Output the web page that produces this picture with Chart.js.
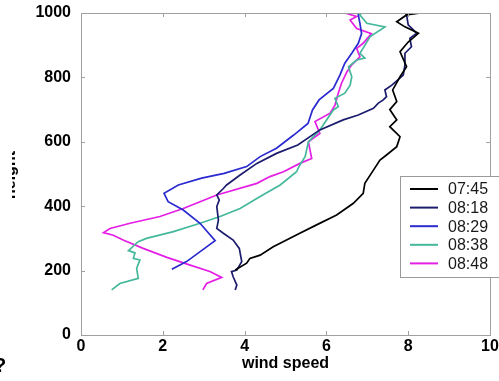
<!DOCTYPE html>
<html>
<head>
<meta charset="utf-8">
<script src="https://cdn.jsdelivr.net/npm/chart.js@4"></script>
<style>
  html, body { margin: 0; padding: 0; background: #fff; }
  #wrap { width: 499px; height: 381px; position: relative; }
</style>
</head>
<body>
<div id="wrap"><canvas id="c"></canvas></div>
<script>
// series labels and colours
var times = ['07:45', '08:18', '08:29', '08:38', '08:48'];
var colors = ['#000000', '#1c1c6e', '#2a2ad0', '#45b89c', '#e41ee4'];

// 07:45
var speed0745 = [3.77, 4.05, 4.13, 4.38, 4.7, 5.35, 5.76, 6.25, 6.66, 6.9, 6.94, 7.15, 7.31, 7.47, 7.72, 7.8, 7.55, 7.72, 7.55, 7.72, 7.62, 7.8, 7.96, 7.8, 8.0, 8.25, 7.92, 7.72, 7.96, 8.3];
var height0745 = [202, 223, 238, 248, 274, 316, 342, 373, 409, 440, 471, 512, 543, 559, 585, 616, 647, 668, 700, 725, 761, 802, 833, 880, 910, 937, 957, 973, 994, 1000];
// 08:18
var speed0818 = [3.77, 3.81, 3.72, 3.68, 3.81, 3.93, 3.87, 3.72, 3.48, 3.32, 3.36, 3.32, 3.38, 3.32, 3.48, 3.56, 3.89, 4.3, 4.78, 5.3, 5.84, 6.41, 6.78, 7.15, 7.27, 7.39, 7.47, 7.43, 7.6, 7.88, 7.92, 7.92, 8.08, 8.04, 8.21, 8.0, 7.96, 7.95];
var height0818 = [140, 155, 181, 197, 202, 228, 269, 295, 316, 331, 357, 399, 419, 435, 455, 466, 497, 533, 564, 590, 637, 668, 683, 704, 720, 730, 740, 761, 776, 807, 839, 875, 895, 921, 937, 963, 994, 1000];
// 08:29
var speed0829 = [2.22, 2.58, 3.28, 2.91, 2.5, 2.13, 2.03, 2.38, 2.95, 3.5, 4.05, 4.38, 4.78, 5.2, 5.55, 5.66, 5.82, 6.17, 6.33, 6.45, 6.62, 6.78, 6.86, 6.82, 6.78, 6.78];
var height0829 = [204, 228, 293, 347, 388, 414, 440, 466, 487, 502, 523, 554, 580, 621, 657, 699, 730, 766, 807, 844, 875, 906, 936, 968, 994, 1000];
// 08:38
var speed0838 = [0.75, 0.95, 1.4, 1.36, 1.44, 1.28, 1.32, 1.16, 1.4, 1.6, 2.26, 2.91, 3.4, 3.89, 4.38, 4.87, 5.27, 5.35, 5.48, 5.56, 5.84, 6.17, 6.29, 6.21, 6.45, 6.58, 6.62, 6.54, 6.74, 6.94, 6.82, 7.07, 7.43, 6.99, 6.82, 6.85];
var height0838 = [140, 160, 176, 207, 233, 238, 255, 262, 290, 300, 321, 347, 368, 393, 430, 466, 507, 528, 554, 600, 637, 699, 709, 735, 751, 776, 802, 833, 854, 860, 875, 927, 957, 968, 994, 1000];
// 08:48
var speed0848 = [2.98, 3.07, 3.44, 3.15, 2.67, 2.1, 1.52, 1.03, 0.79, 0.55, 0.71, 1.2, 1.93, 2.5, 3.32, 4.3, 4.62, 4.95, 5.35, 5.64, 5.6, 5.56, 5.84, 5.72, 6.09, 6.21, 6.29, 6.37, 6.5, 6.62, 6.82, 6.74, 6.9, 7.1, 6.74, 6.58, 6.74, 6.45];
var height0848 = [140, 160, 179, 197, 217, 241, 269, 295, 310, 318, 331, 347, 368, 393, 435, 471, 492, 507, 533, 548, 574, 600, 626, 663, 689, 714, 751, 782, 817, 839, 864, 890, 906, 936, 952, 978, 989, 1000];

var xTicks = [0, 2, 4, 6, 8, 10];
var yTicks = [0, 200, 400, 600, 800, 1000];

var speeds = [speed0745, speed0818, speed0829, speed0838, speed0848];
var heights = [height0745, height0818, height0829, height0838, height0848];

function toPoints(xs, ys) {
    var pts = [];
    for (var i = 0; i < xs.length; i++) {
        pts.push({ x: xs[i], y: ys[i] });
    }
    return pts;
}

var datasets = [];
for (var i = 0; i < times.length; i++) {
    datasets.push({
        label: times[i],
        data: toPoints(speeds[i], heights[i]),
        borderColor: colors[i],
        backgroundColor: colors[i],
        borderWidth: 1.7,
        showLine: true,
        pointRadius: 0,
        tension: 0
    });
}

var FONT = "'Liberation Sans', Arial, Helvetica, sans-serif";

// box, inward ticks, clipped y label and legend
var matlabLook = {
    id: 'matlabLook',
    afterDraw: function (chart) {
        var ctx = chart.ctx;
        var a = chart.chartArea;
        var xs = chart.scales.x, ys = chart.scales.y;
        ctx.save();
        ctx.strokeStyle = '#a0a0a0';
        ctx.lineWidth = 1;
        ctx.strokeRect(Math.round(a.left) + 0.5, Math.round(a.top) + 0.5,
            Math.round(a.right - a.left), Math.round(a.bottom - a.top));
        ctx.beginPath();
        xTicks.forEach(function (v) {
            var px = Math.round(xs.getPixelForValue(v)) + 0.5;
            ctx.moveTo(px, a.bottom); ctx.lineTo(px, a.bottom - 4);
            ctx.moveTo(px, a.top); ctx.lineTo(px, a.top + 4);
        });
        yTicks.forEach(function (v) {
            var py = Math.round(ys.getPixelForValue(v)) + 0.5;
            ctx.moveTo(a.left, py); ctx.lineTo(a.left + 4, py);
            ctx.moveTo(a.right, py); ctx.lineTo(a.right - 4, py);
        });
        ctx.stroke();
        ctx.restore();

        // y label, cut by the left edge
        ctx.save();
        ctx.beginPath();
        ctx.rect(12, 0, 30, chart.height);
        ctx.clip();
        ctx.translate(15, 175);
        ctx.rotate(-Math.PI / 2);
        ctx.font = 'bold 16px ' + FONT;
        ctx.fillStyle = '#000';
        ctx.textAlign = 'center';
        ctx.textBaseline = 'alphabetic';
        ctx.fillText('height', 0, 0);
        ctx.restore();

        ctx.save();
        ctx.font = 'bold 20px ' + FONT;
        ctx.fillStyle = '#000';
        ctx.textBaseline = 'alphabetic';
        ctx.fillText('?', -6, 372);
        ctx.restore();

        // legend
        ctx.save();
        ctx.fillStyle = '#fff';
        ctx.fillRect(400.5, 176.5, 110, 101);
        ctx.strokeStyle = '#9a9a9a';
        ctx.lineWidth = 1;
        ctx.strokeRect(400.5, 176.5, 110, 101);
        ctx.font = '16px ' + FONT;
        ctx.textBaseline = 'middle';
        chart.data.datasets.forEach(function (ds, i) {
            var y = 189 + i * 18.6;
            ctx.strokeStyle = ds.borderColor;
            ctx.lineWidth = 2;
            ctx.beginPath();
            ctx.moveTo(410, y); ctx.lineTo(438, y);
            ctx.stroke();
            ctx.fillStyle = '#1a1a1a';
            ctx.fillText(ds.label, 448, y + 1);
        });
        ctx.restore();
    }
};

new Chart(document.getElementById('c'), {
    type: 'scatter',
    data: { datasets: datasets },
    plugins: [matlabLook],
    options: {
        responsive: true,
        maintainAspectRatio: false,
        animation: false,
        layout: { padding: { top: 13, right: 9, left: 0, bottom: 0 } },
        plugins: {
            legend: { display: false },
            tooltip: { enabled: false }
        },
        scales: {
            x: {
                type: 'linear',
                min: 0, max: 10,
                afterFit: function (s) { s.height = 46; },
                afterBuildTicks: function (s) { s.ticks = xTicks.map(function (v) { return { value: v }; }); },
                grid: { display: false },
                border: { display: false },
                ticks: {
                    padding: -6, color: '#000',
                    font: { family: FONT, size: 16, weight: 'bold' },
                    callback: function (v) { return String(v); }
                },
                title: {
                    display: true, text: 'wind speed', color: '#000',
                    padding: { top: 0, bottom: 8 },
                    font: { family: FONT, size: 16, weight: 'bold' }
                }
            },
            y: {
                type: 'linear',
                min: 0, max: 1000,
                afterFit: function (s) { s.width = 81; },
                afterBuildTicks: function (s) { s.ticks = yTicks.map(function (v) { return { value: v }; }); },
                grid: { display: false },
                border: { display: false },
                ticks: {
                    padding: 2, color: '#000',
                    font: { family: FONT, size: 16, weight: 'bold' },
                    callback: function (v) { return String(v); }
                }
            }
        }
    }
});
</script>
</body>
</html>
